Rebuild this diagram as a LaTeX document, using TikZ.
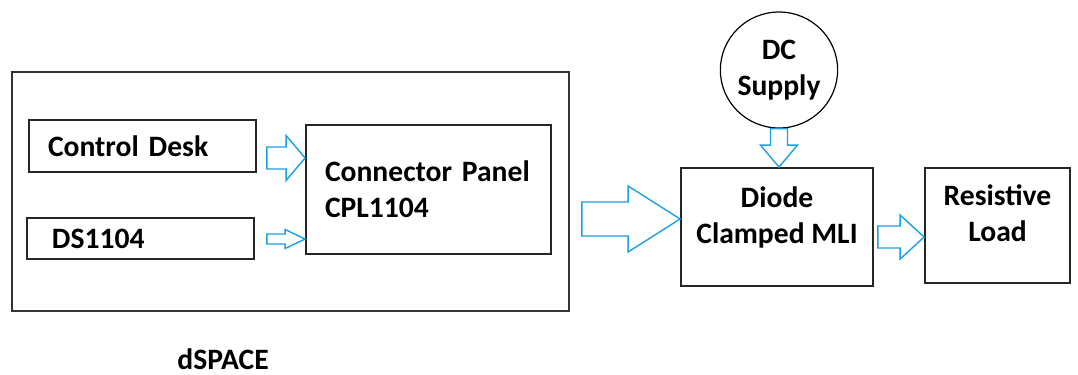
\documentclass[tikz,border=0pt]{standalone}
\usepackage{fontspec}
\setmainfont{Carlito}
\usetikzlibrary{calc,shapes.geometric}
\definecolor{flowblue}{RGB}{28,160,228}
\tikzset{
 frame/.style={draw=black!80,line width=.8pt,minimum width=278.5pt,minimum height=119.5pt,inner sep=0},
 block/.style={draw=black!85,line width=.9pt,inner ysep=0,font=\fontsize{14.8}{18}\selectfont\bfseries},
 leftblock/.style={block,align=left},
 midblock/.style={block,align=center,text height=27.75pt,text depth=11.75pt},
 supply/.style={ellipse,draw,line width=.6pt,minimum width=54pt,minimum height=58pt,inner sep=0,align=center,font=\fontsize{14.8}{18}\selectfont\bfseries},
 flow/.style={draw=flowblue,line width=.7pt,line join=miter},
 tag/.style={inner sep=0,font=\fontsize{14.8}{18}\selectfont\bfseries}
}
\newcommand{\hollowarrow}[5]{%
 \coordinate (hb) at ($(#2)!#5!(#1)$);
 \draw[flow] ($(#1)!#3!90:(#2)$) -- ($(hb)!#3!90:(#2)$) -- ($(hb)!#4!90:(#2)$) -- (#2)
  -- ($(hb)!#4!-90:(#2)$) -- ($(hb)!#3!-90:(#2)$) -- ($(#1)!#3!-90:(#2)$) -- cycle;
}
\begin{document}
\begin{tikzpicture}[x=.5pt,y=-.5pt]
\path[use as bounding box] (0,0) rectangle (1078,375);
\node[frame] (dsp) at (290.5,191.5) {};
\node[leftblock,text width=94.5pt,inner xsep=9.5pt,minimum height=26pt] (desk) at (142.5,146) {Control Desk};
\node[leftblock,text width=88.5pt,inner xsep=12.5pt,minimum height=20.5pt] (ds) at (140.5,238.5) {DS1104};
\node[leftblock,text width=103.5pt,inner xsep=9.5pt,minimum height=64.5pt] (panel) at (428.5,189.5) {Connector Panel\\CPL1104};
\node[supply] (dc) at (779,70) {DC\\Supply};
\node[midblock,minimum width=96pt,minimum height=59pt] (mli) at (777,227) {Diode\\Clamped MLI};
\node[midblock,minimum width=72.5pt,minimum height=57.5pt] (load) at (997.5,225.5) {Resistive\\Load};
\node[tag,anchor=base west] (dspname) at (177,369) {dSPACE};
\coordinate (a1) at ($(desk.east)+(10,12)$);
\coordinate (b1) at (a1 -| panel.west);
\hollowarrow{a1}{b1}{5.5pt}{11.25pt}{9.5pt}
\coordinate (a2) at ($(ds.east)+(12,.5)$);
\coordinate (b2) at (a2 -| panel.west);
\hollowarrow{a2}{b2}{2.5pt}{4.75pt}{10pt}
\coordinate (a3) at ($(dsp.east)+(12,27.5)$);
\coordinate (b3) at (a3 -| mli.west);
\hollowarrow{a3}{b3}{8.5pt}{16.5pt}{26pt}
\coordinate (b4) at (dc.south |- mli.north);
\hollowarrow{dc.south}{b4}{4.25pt}{9.25pt}{11pt}
\coordinate (a5) at ($(mli.east)+(4,10)$);
\coordinate (b5) at (a5 -| load.west);
\hollowarrow{a5}{b5}{5.5pt}{11pt}{12pt}
\end{tikzpicture}
\end{document}
